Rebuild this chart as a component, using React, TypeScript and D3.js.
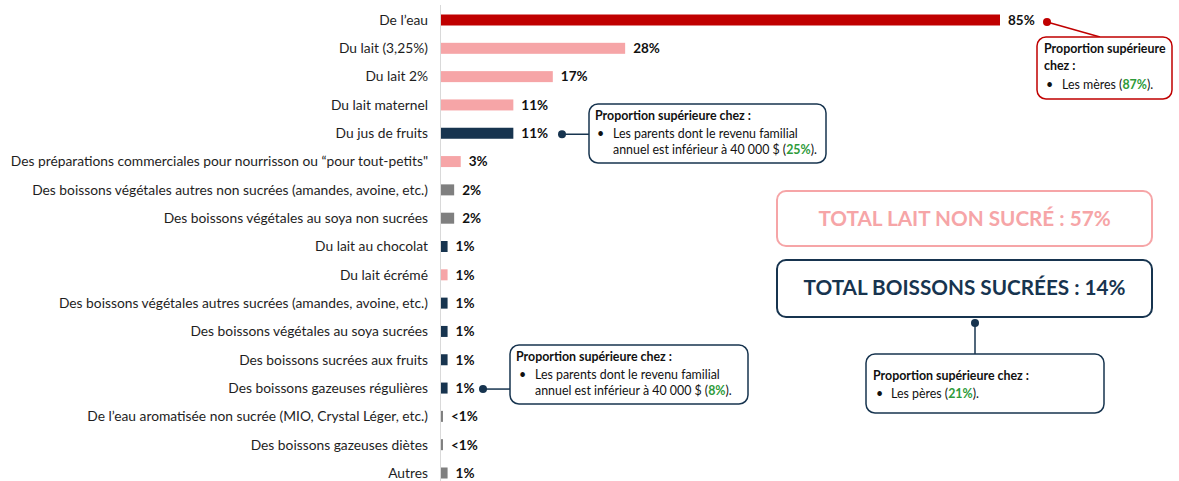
import React from "react";
import * as d3 from "d3";

const categories = [
  "De l’eau",
  "Du lait (3,25%)",
  "Du lait 2%",
  "Du lait maternel",
  "Du jus de fruits",
  "Des préparations commerciales pour nourrisson ou “pour tout-petits\"",
  "Des boissons végétales autres non sucrées (amandes, avoine, etc.)",
  "Des boissons végétales au soya non sucrées",
  "Du lait au chocolat",
  "Du lait écrémé",
  "Des boissons végétales autres sucrées (amandes, avoine, etc.)",
  "Des boissons végétales au soya sucrées",
  "Des boissons sucrées aux fruits",
  "Des boissons gazeuses régulières",
  "De l’eau aromatisée non sucrée (MIO, Crystal Léger, etc.)",
  "Des boissons gazeuses diètes",
  "Autres",
];
const values = [85, 28, 17, 11, 11, 3, 2, 2, 1, 1, 1, 1, 1, 1, 0.3, 0.3, 1];
const valueLabels = ["85%", "28%", "17%", "11%", "11%", "3%", "2%", "2%", "1%", "1%", "1%", "1%", "1%", "1%", "<1%", "<1%", "1%"];
const groups = ["eau", "lait", "lait", "lait", "sucre", "lait", "veg", "veg", "sucre", "lait", "sucre", "sucre", "sucre", "sucre", "veg", "veg", "veg"];

const colors: Record<string, string> = {
  eau: "#C00000",
  lait: "#F6A5A7",
  sucre: "#17344F",
  veg: "#7F7F7F",
};

const NAVY = "#17344F";
const PINK = "#F6A5A7";
const RED = "#C00000";
const GREEN = "#2E9B3A";
const FONT = "Lato, 'Open Sans', sans-serif";

export default function App() {
  const W = 1179, H = 481;
  const x = d3.scaleLinear().domain([0, 85]).range([441, 1000]);
  const y = d3.scalePoint<string>().domain(categories).range([20, 473]);
  const barH = 11;
  const cf = 12.4;

  const callout = (
    bx: number, by: number, bw: number, bh: number, stroke: string,
    lines: React.ReactNode
  ) => (
    <g>
      <rect x={bx} y={by} width={bw} height={bh} rx={9} ry={9} fill="#fff" stroke={stroke} strokeWidth={1.5} />
      {lines}
    </g>
  );

  return (
    <svg width={W} height={H} style={{ position: "absolute", left: 0, top: 0, background: "#fff" }} fontFamily={FONT}>
      <line x1={440.5} x2={440.5} y1={5} y2={481} stroke="#D9D9D9" strokeWidth={1} />
      {categories.map((c, i) => {
        const cy = y(c)!;
        return (
          <g key={c}>
            <text x={428} y={cy} dy="0.35em" textAnchor="end" fontSize={13.8} fill="#1e1e1e">{c}</text>
            <rect x={x(0)} y={cy - barH / 2} width={x(values[i]) - x(0)} height={barH} fill={colors[groups[i]]} />
            <text x={x(values[i]) + 8} y={cy} dy="0.36em" fontSize={13.5} fontWeight={700} fill="#111">{valueLabels[i]}</text>
          </g>
        );
      })}

      {/* Callout: De l'eau */}
      <line x1={1047} y1={y(categories[0])! + 2} x2={1100} y2={37} stroke={RED} strokeWidth={1.5} />
      <circle cx={1047} cy={y(categories[0])! + 2} r={4} fill={RED} />
      {callout(1037, 37, 135, 62, RED,
        <g fontSize={cf}>
          <text x={1044} y={53} fontWeight={700} fill="#111">Proportion supérieure</text>
          <text x={1044} y={70} fontWeight={700} fill="#111">chez :</text>
          <text x={1046} y={89} fill="#111">•</text>
          <text x={1062} y={89} fill="#111">Les mères (<tspan fill={GREEN} fontWeight={700}>87%</tspan>).</text>
        </g>
      )}

      {/* Callout: jus de fruits */}
      <line x1={562} y1={y(categories[4])! + 1} x2={589} y2={y(categories[4])! + 1} stroke={NAVY} strokeWidth={1.5} />
      <circle cx={562} cy={y(categories[4])! + 1} r={4} fill={NAVY} />
      {callout(589, 104, 237, 59, NAVY,
        <g fontSize={cf}>
          <text x={595} y={120} fontWeight={700} fill="#111">Proportion supérieure chez :</text>
          <text x={597} y={138} fill="#111">•</text>
          <text x={613} y={138} fill="#111">Les parents dont le revenu familial</text>
          <text x={613} y={154} fill="#111">annuel est inférieur à 40 000 $ (<tspan fill={GREEN} fontWeight={700}>25%</tspan>).</text>
        </g>
      )}

      {/* Callout: gazeuses régulières */}
      <line x1={483} y1={y(categories[13])! + 1} x2={510} y2={y(categories[13])! + 1} stroke={NAVY} strokeWidth={1.5} />
      <circle cx={483} cy={y(categories[13])! + 1} r={4} fill={NAVY} />
      {callout(510, 345, 238, 59, NAVY,
        <g fontSize={cf}>
          <text x={516} y={361} fontWeight={700} fill="#111">Proportion supérieure chez :</text>
          <text x={519} y={379} fill="#111">•</text>
          <text x={535} y={379} fill="#111">Les parents dont le revenu familial</text>
          <text x={535} y={395} fill="#111">annuel est inférieur à 40 000 $ (<tspan fill={GREEN} fontWeight={700}>8%</tspan>).</text>
        </g>
      )}

      {/* Totals */}
      <rect x={777} y={191} width={375} height={55} rx={9} ry={9} fill="#fff" stroke={PINK} strokeWidth={2} />
      <text x={964.5} y={219} dy="0.36em" textAnchor="middle" fontSize={20.7} fontWeight={700} fill={PINK}>TOTAL LAIT NON SUCRÉ : 57%</text>
      <rect x={777} y={260} width={375} height={57} rx={9} ry={9} fill="#fff" stroke={NAVY} strokeWidth={2} />
      <text x={964.5} y={288} dy="0.36em" textAnchor="middle" fontSize={20.7} fontWeight={700} fill={NAVY}>TOTAL BOISSONS SUCRÉES : 14%</text>

      {/* Callout: pères */}
      <line x1={975} y1={323} x2={975} y2={354} stroke={NAVY} strokeWidth={1.5} />
      <circle cx={975} cy={323} r={4} fill={NAVY} />
      {callout(866, 354, 238, 59, NAVY,
        <g fontSize={cf}>
          <text x={873} y={380} fontWeight={700} fill="#111">Proportion supérieure chez :</text>
          <text x={876} y={398} fill="#111">•</text>
          <text x={891} y={398} fill="#111">Les pères (<tspan fill={GREEN} fontWeight={700}>21%</tspan>).</text>
        </g>
      )}
    </svg>
  );
}
